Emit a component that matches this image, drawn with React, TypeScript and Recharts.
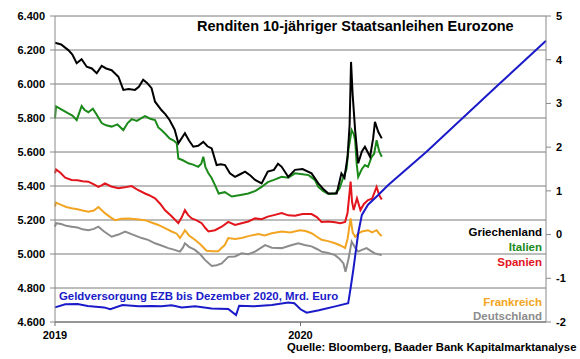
import React from 'react';
import { LineChart, Line, XAxis, YAxis, CartesianGrid } from 'recharts';

type Pt = [number, number];

// x = months since Jan 2019, y = yield in % (right axis)
const greece: Pt[] = [
  [0, 4.39], [0.3, 4.35], [0.65, 4.22], [0.85, 4.12], [1.06, 3.92], [1.3, 4.01], [1.55, 3.84], [1.8, 3.8],
  [2.04, 3.69], [2.28, 3.86], [2.5, 3.8], [2.77, 3.76], [3.1, 3.61], [3.34, 3.31], [3.6, 3.33], [3.91, 3.31],
  [4.1, 3.38], [4.31, 3.54], [4.5, 3.47], [4.72, 3.35], [4.89, 3.04], [5.2, 2.85], [5.4, 2.75], [5.6, 2.62],
  [5.85, 2.4], [6.03, 2.09], [6.35, 2.32], [6.55, 2.15], [6.76, 2.01], [7.0, 2.03], [7.25, 2.12], [7.45, 2.02],
  [7.66, 1.97], [7.9, 1.59], [8.1, 1.61], [8.31, 1.59], [8.55, 1.4], [8.8, 1.32], [9.05, 1.38], [9.29, 1.44],
  [9.55, 1.35], [9.78, 1.25], [10.1, 1.17], [10.4, 1.44], [10.7, 1.48], [10.9, 1.62], [11.08, 1.55], [11.4, 1.32],
  [11.73, 1.48], [12.1, 1.5], [12.54, 1.4], [12.87, 1.17], [13.1, 1.05], [13.36, 0.94], [13.77, 0.94], [14.0, 1.4],
  [14.15, 1.3], [14.3, 1.78], [14.4, 2.5], [14.47, 3.95], [14.55, 3.2], [14.67, 2.39], [14.82, 1.63], [15.0, 1.9],
  [15.15, 2.01], [15.4, 1.78], [15.55, 2.2], [15.64, 2.58], [15.8, 2.35], [15.97, 2.2],
];

const italy: Pt[] = [
  [0, 2.66], [0.05, 2.93], [0.35, 2.85], [0.65, 2.77], [0.85, 2.72], [1.06, 2.62], [1.3, 2.94], [1.45, 2.85],
  [1.63, 2.8], [1.85, 2.88], [2.04, 2.74], [2.28, 2.55], [2.5, 2.5], [2.77, 2.47], [3.05, 2.52], [3.34, 2.39],
  [3.55, 2.55], [3.75, 2.64], [4.0, 2.6], [4.2, 2.66], [4.4, 2.71], [4.65, 2.65], [4.89, 2.62], [5.05, 2.45],
  [5.2, 2.39], [5.4, 2.3], [5.6, 2.2], [5.8, 2.15], [5.95, 2.09], [6.03, 1.74], [6.25, 1.7], [6.52, 1.63],
  [6.75, 1.6], [7.0, 1.55], [7.15, 1.62], [7.25, 1.78], [7.35, 1.55], [7.5, 1.4], [7.65, 1.3], [7.82, 1.13],
  [8.0, 0.94], [8.3, 0.97], [8.64, 0.87], [9.0, 0.9], [9.45, 0.94], [9.8, 1.0], [10.1, 1.09], [10.4, 1.2],
  [10.7, 1.25], [11.08, 1.32], [11.4, 1.3], [11.73, 1.4], [12.1, 1.38], [12.4, 1.36], [12.7, 1.25], [12.87, 1.09],
  [13.1, 1.0], [13.36, 0.93], [13.69, 0.94], [13.9, 1.05], [14.1, 1.32], [14.25, 1.5], [14.34, 1.93], [14.5, 2.39],
  [14.6, 2.3], [14.67, 2.16], [14.75, 1.6], [14.82, 1.32], [15.0, 1.5], [15.15, 1.59], [15.3, 1.55], [15.48, 1.78],
  [15.6, 1.85], [15.72, 2.16], [15.85, 1.9], [15.97, 1.78],
];

const spain: Pt[] = [
  [0, 1.4], [0.05, 1.49], [0.25, 1.42], [0.5, 1.3], [0.81, 1.25], [1.1, 1.24], [1.35, 1.22], [1.63, 1.21],
  [1.9, 1.15], [2.12, 1.09], [2.3, 1.13], [2.44, 1.17], [2.75, 1.1], [3.1, 1.06], [3.4, 1.08], [3.75, 1.11],
  [4.05, 1.02], [4.4, 0.94], [4.6, 0.9], [4.89, 0.83], [5.15, 0.7], [5.37, 0.56], [5.7, 0.42], [6.03, 0.26],
  [6.2, 0.4], [6.35, 0.56], [6.5, 0.45], [6.68, 0.37], [6.9, 0.33], [7.17, 0.26], [7.35, 0.15], [7.5, 0.07],
  [7.82, 0.1], [8.15, 0.18], [8.47, 0.29], [8.8, 0.22], [9.12, 0.26], [9.45, 0.3], [9.78, 0.37], [10.1, 0.35],
  [10.4, 0.41], [10.75, 0.45], [11.08, 0.49], [11.4, 0.44], [11.73, 0.43], [12.1, 0.47], [12.54, 0.47], [12.8, 0.4],
  [13.03, 0.29], [13.35, 0.3], [13.69, 0.28], [13.95, 0.26], [14.18, 0.29], [14.3, 0.5], [14.45, 1.21], [14.52, 0.75],
  [14.6, 0.56], [14.76, 0.83], [14.93, 0.56], [15.1, 0.7], [15.3, 0.79], [15.5, 0.82], [15.72, 1.09], [15.85, 0.9],
  [15.97, 0.8],
];

const france: Pt[] = [
  [0, 0.64], [0.05, 0.73], [0.3, 0.68], [0.55, 0.63], [0.81, 0.6], [1.1, 0.58], [1.35, 0.55], [1.63, 0.52],
  [1.9, 0.55], [2.12, 0.63], [2.3, 0.55], [2.44, 0.49], [2.7, 0.4], [2.93, 0.33], [3.25, 0.36], [3.59, 0.37],
  [4.0, 0.35], [4.4, 0.33], [4.75, 0.27], [5.05, 0.22], [5.4, 0.14], [5.7, 0.07], [5.95, 0.02], [6.11, -0.08],
  [6.25, 0.02], [6.35, 0.1], [6.55, -0.02], [6.84, -0.12], [7.1, -0.22], [7.41, -0.37], [7.7, -0.38], [7.98, -0.38],
  [8.15, -0.3], [8.3, -0.24], [8.47, -0.08], [8.8, -0.1], [9.12, -0.08], [9.5, -0.03], [9.94, 0.01], [10.25, -0.02],
  [10.6, 0.03], [11.08, 0.07], [11.5, 0.05], [11.97, 0.1], [12.25, 0.08], [12.54, 0.03], [12.8, -0.05], [13.03, -0.12],
  [13.35, -0.15], [13.69, -0.2], [13.95, -0.25], [14.18, -0.31], [14.3, -0.1], [14.45, 0.37], [14.55, 0.05], [14.67, -0.05],
  [14.82, 0.02], [15.0, 0.07], [15.3, 0.1], [15.5, 0.05], [15.72, 0.1], [15.85, 0.02], [15.97, -0.03],
];

const germany: Pt[] = [
  [0, 0.18], [0.05, 0.26], [0.3, 0.24], [0.55, 0.2], [0.81, 0.18], [1.1, 0.16], [1.35, 0.12], [1.63, 0.1],
  [1.9, 0.13], [2.12, 0.18], [2.4, 0.07], [2.77, -0.05], [3.1, 0.0], [3.43, 0.07], [3.8, 0.0], [4.24, -0.08],
  [4.55, -0.12], [4.89, -0.2], [5.2, -0.25], [5.54, -0.31], [5.85, -0.35], [6.11, -0.39], [6.25, -0.3], [6.35, -0.2],
  [6.55, -0.28], [6.84, -0.35], [7.1, -0.45], [7.33, -0.58], [7.66, -0.72], [7.9, -0.7], [8.15, -0.66], [8.47, -0.51],
  [8.8, -0.5], [9.12, -0.43], [9.45, -0.45], [9.78, -0.39], [10.27, -0.24], [10.6, -0.3], [11.08, -0.31], [11.5, -0.25],
  [11.89, -0.2], [12.2, -0.24], [12.54, -0.27], [12.8, -0.33], [13.03, -0.39], [13.35, -0.42], [13.69, -0.47], [13.9, -0.55],
  [14.1, -0.66], [14.2, -0.85], [14.35, -0.55], [14.5, -0.16], [14.7, -0.32], [14.82, -0.39], [15.0, -0.35], [15.23, -0.31],
  [15.45, -0.38], [15.64, -0.43], [15.8, -0.45], [15.97, -0.47],
];

// ECB money supply, Mrd. Euro (left axis)
const ecb: Pt[] = [
  [0, 4686], [0.5, 4704], [1.1, 4706], [1.6, 4694], [2.4, 4686], [2.7, 4675], [3.3, 4700], [4.1, 4692],
  [4.7, 4694], [5.2, 4692], [5.7, 4698], [6.2, 4686], [6.85, 4692], [7.65, 4680], [8.47, 4676], [8.85, 4641],
  [9.0, 4696], [9.7, 4692], [10.6, 4700], [11.4, 4714], [11.7, 4710], [12.0, 4675], [12.3, 4655], [12.9, 4669],
  [13.7, 4692], [14.33, 4710], [14.45, 4800], [14.58, 4906], [14.82, 5122], [15.0, 5230], [15.3, 5290], [15.8, 5347],
  [16.29, 5406], [18.16, 5602], [21.75, 6004], [24, 6255],
];

const leftTicks = [4600, 4800, 5000, 5200, 5400, 5600, 5800, 6000, 6200, 6400];
const rightTicks = [-2, -1, 0, 1, 2, 3, 4, 5];
const xTicks = [0, 12];
const xLabels: Record<number, string> = { 0: '2019', 12: '2020' };

const FONT = '"Liberation Sans", Arial, Helvetica, sans-serif';
const tickStyle = { fontSize: 11, fill: '#000', fontWeight: 'bold', fontFamily: FONT };

const rows = (pts: Pt[]) => pts.map(([m, v]) => ({ m, v }));
const thousands = (v: number) => `${Math.floor(v / 1000)}.${String(v % 1000).padStart(3, '0')}`;

const series = [
  { name: 'Deutschland', data: germany, color: '#8c8c8c', y: 320 },
  { name: 'Frankreich', data: france, color: '#f2a522', y: 305.5 },
  { name: 'Spanien', data: spain, color: '#e2141c', y: 265.5 },
  { name: 'Italien', data: italy, color: '#1b8a1b', y: 251 },
  { name: 'Griechenland', data: greece, color: '#000000', y: 235.7 },
];

export default function App() {
  return (
    <div style={{ position: 'absolute', left: 0, top: 0, width: 580, height: 359, background: '#fff' }}>
      <LineChart width={580} height={359} margin={{ top: 16, right: 0, bottom: 0, left: 0 }}>
        <CartesianGrid yAxisId="left" vertical={false} stroke="#7a7a7a" />
        <XAxis
          type="number"
          dataKey="m"
          domain={[0, 24]}
          ticks={xTicks}
          tickFormatter={(v) => xLabels[v] ?? ''}
          height={37}
          tickSize={4}
          tickMargin={5}
          stroke="#6e6e6e"
          tick={tickStyle}
          interval={0}
        />
        <YAxis
          yAxisId="left"
          domain={[4600, 6400]}
          ticks={leftTicks}
          tickFormatter={thousands}
          width={55}
          tickSize={5}
          tickMargin={5}
          stroke="#8a8a8a"
          tick={tickStyle}
          interval={0}
        />
        <YAxis
          yAxisId="right"
          orientation="right"
          domain={[-2, 5]}
          ticks={rightTicks}
          width={34}
          tickSize={5}
          tickMargin={5}
          stroke="#8a8a8a"
          tick={tickStyle}
          interval={0}
        />
        {series.map((s) => (
          <Line
            key={s.name}
            data={rows(s.data)}
            dataKey="v"
            yAxisId="right"
            type="linear"
            stroke={s.color}
            strokeWidth={2}
            dot={false}
            isAnimationActive={false}
          />
        ))}
        <Line
          data={rows(ecb)}
          dataKey="v"
          yAxisId="left"
          type="linear"
          stroke="#1a1ac8"
          strokeWidth={2}
          dot={false}
          isAnimationActive={false}
        />
      </LineChart>
      <svg
        width={580}
        height={359}
        style={{ position: 'absolute', left: 0, top: 0, pointerEvents: 'none' }}
        fontFamily={FONT}
        fontWeight="bold"
      >
        <text x={197} y={31} fontSize={14.5} fill="#000">
          Renditen 10-jähriger Staatsanleihen Eurozone
        </text>
        <text x={59} y={299.5} fontSize={11.4} fill="#1a1ac8">
          Geldversorgung EZB bis Dezember 2020, Mrd. Euro
        </text>
        {series.map((s) => (
          <text key={s.name} x={542} y={s.y} fontSize={11.5} fill={s.color} textAnchor="end">
            {s.name}
          </text>
        ))}
        <text x={287} y={350.5} fontSize={11.3} fill="#000">
          Quelle: Bloomberg, Baader Bank Kapitalmarktanalyse
        </text>
      </svg>
    </div>
  );
}
